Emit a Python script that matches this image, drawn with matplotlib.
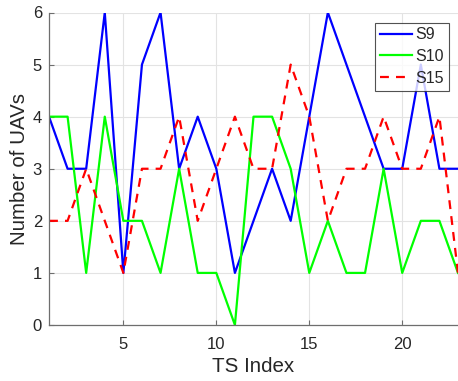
import matplotlib
matplotlib.use("Agg")
import matplotlib.pyplot as plt

ts_index = list(range(1, 24))
s9 = [4, 3, 3, 6, 1, 5, 6, 3, 4, 3, 1, 2, 3, 2, 4, 6, 5, 4, 3, 3, 5, 3, 3]
s10 = [4, 4, 1, 4, 2, 2, 1, 3, 1, 1, 0, 4, 4, 3, 1, 2, 1, 1, 3, 1, 2, 2, 1]
s15 = [2, 2, 3, 2, 1, 3, 3, 4, 2, 3, 4, 3, 3, 5, 4, 2, 3, 3, 4, 3, 3, 4, 1]
x_ticks = [5, 10, 15, 20]
y_ticks = [0, 1, 2, 3, 4, 5, 6]

plt.rcParams['font.family'] = ['Liberation Sans', 'DejaVu Sans']

W, H = 458, 381
fig = plt.figure(figsize=(W / 100, H / 100), dpi=100)
left, right, top, bottom = 49, 458, 12.5, 325
ax = fig.add_axes([left / W, 1 - bottom / H, (right - left) / W, (bottom - top) / H])

ax.plot(ts_index, s9, color='#0000ff', lw=1.6, label='S9')
ax.plot(ts_index, s10, color='#00ff00', lw=1.6, label='S10')
ax.plot(ts_index, s15, color='#ff0000', lw=1.6, ls=(0, (4, 3.2)), label='S15')

ax.set_xlim(1, 23)
ax.set_ylim(0, 6)
ax.set_xticks(x_ticks)
ax.set_yticks(y_ticks)
ax.grid(True, color='#e3e3e3', lw=0.8)
ax.set_axisbelow(True)

for side in ('top', 'right'):
    ax.spines[side].set_visible(False)
for side in ('left', 'bottom'):
    ax.spines[side].set_color('#6e6e6e')
    ax.spines[side].set_linewidth(0.9)

ax.tick_params(direction='in', length=3.5, width=0.8, color='#6e6e6e',
               labelcolor='#262626', labelsize=12)
ax.tick_params(axis='x', pad=8.5)
ax.tick_params(axis='y', pad=5)

ax.set_xlabel('TS Index', fontsize=14.8, color='#262626', labelpad=4)
ax.set_ylabel('Number of UAVs', fontsize=14.8, color='#262626', labelpad=3)

# legend box: x 376..449 px, y 22.5..90 px
ax_w, ax_h = right - left, bottom - top
leg = ax.legend(loc='upper right',
                bbox_to_anchor=((449 - left) / ax_w, 1 - (22.5 - top) / ax_h),
                fontsize=11.5, frameon=True, fancybox=False, edgecolor='#262626',
                handlelength=2.0, handletextpad=0.25, borderpad=0.3,
                labelspacing=0.42, borderaxespad=0)
leg.get_frame().set_linewidth(0.8)
for t in leg.get_texts():
    t.set_color('#262626')

fig.savefig('out.png', dpi=100)
